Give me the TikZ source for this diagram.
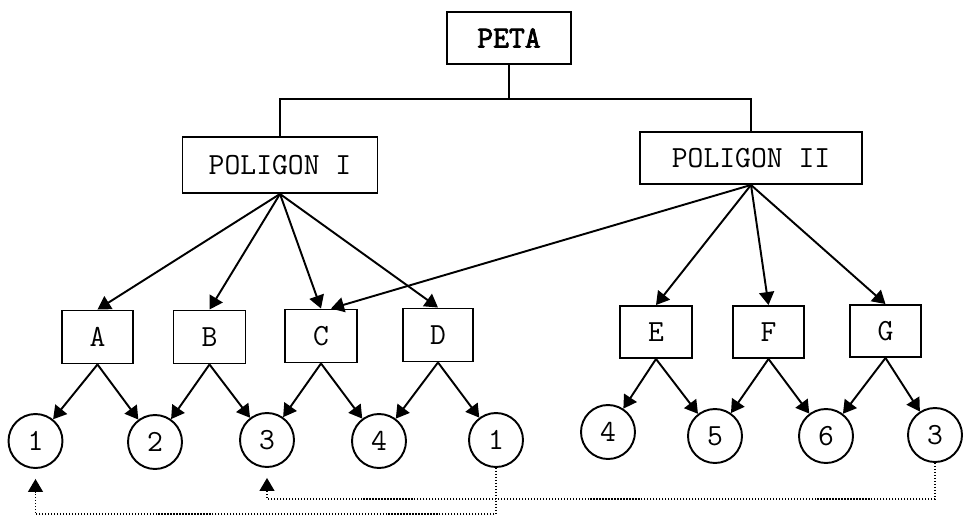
\documentclass[tikz,border=0pt]{standalone}
\usepackage{fontspec}
\usepackage{tikz}
\usetikzlibrary{arrows.meta}
\newfontfamily\boldtt{Latin Modern Mono}[FakeBold=2.5]
\tikzset{
  box node/.style={rectangle,draw,line width=1.1pt,inner sep=0pt,font=\ttfamily\fontsize{17.5}{20}\selectfont},
  circ node/.style={circle,draw,line width=1.1pt,inner sep=0pt,minimum size=1.08cm,font=\ttfamily\fontsize{17.5}{20}\selectfont},
  link/.style={->,line width=1.1pt},
  back link/.style={->,densely dotted,line width=0.7pt,shorten >=0.2cm}
}

\begin{document}
\begin{tikzpicture}[x=0.02cm,y=-0.02cm,>={Triangle[length=0.26cm,width=0.3cm]}]
  \useasboundingbox (0,0) rectangle (963,524);
  % top levels
  \node [box node,minimum width=2.48cm,minimum height=1.04cm] (peta) at (509,38) {\boldtt PETA};
  \node [box node,minimum width=3.9cm,minimum height=1.12cm] (pol1) at (280,165) {POLIGON I};
  \node [box node,minimum width=4.44cm,minimum height=1.04cm] (pol2) at (751,158) {POLIGON II};
  \coordinate (bus) at (509,99);
  \draw [line width=1.1pt] (peta) -- (bus);
  \draw [line width=1.1pt] (bus) -| (pol1);
  \draw [line width=1.1pt] (bus) -| (pol2);
  % letters
  \node [box node,minimum width=1.42cm,minimum height=1.06cm] (A) at (97.5,337) {A};
  \node [box node,minimum width=1.44cm,minimum height=1.06cm] (B) at (209.5,337) {B};
  \node [box node,minimum width=1.44cm,minimum height=1.06cm] (C) at (321,336) {C};
  \node [box node,minimum width=1.4cm,minimum height=1.06cm] (D) at (438,335) {D};
  \node [box node,minimum width=1.44cm,minimum height=1.04cm] (E) at (656,332) {E};
  \node [box node,minimum width=1.42cm,minimum height=1.04cm] (F) at (768.5,332) {F};
  \node [box node,minimum width=1.42cm,minimum height=1.04cm] (G) at (885.5,331) {G};
  \draw [link] (pol1.south) -- (A.north);
  \draw [link] (pol1.south) -- (B.north);
  \draw [link] (pol1.south) -- (C.north);
  \draw [link] (pol1.south) -- (D.north);
  \draw [link] (pol2.south) -- ([xshift=0.2cm]C.north);
  \draw [link] (pol2.south) -- (E.north);
  \draw [link] (pol2.south) -- (F.north);
  \draw [link] (pol2.south) -- (G.north);
  % circles
  \node [circ node] (c1) at (35.5,441) {1};
  \node [circ node] (c2) at (155,442) {2};
  \node [circ node] (c3) at (267,440) {3};
  \node [circ node] (c4) at (379,441) {4};
  \node [circ node] (c5) at (496,440) {1};
  \node [circ node] (c6) at (608,432) {4};
  \node [circ node] (c7) at (715,436) {5};
  \node [circ node] (c8) at (826,436) {6};
  \node [circ node] (c9) at (935,435) {3};
  \draw [link] (A.south) -- (c1);
  \draw [link] (A.south) -- (c2);
  \draw [link] (B.south) -- (c2);
  \draw [link] (B.south) -- (c3);
  \draw [link] (C.south) -- (c3);
  \draw [link] (C.south) -- (c4);
  \draw [link] (D.south) -- (c4);
  \draw [link] (D.south) -- (c5);
  \draw [link] (E.south) -- (c6);
  \draw [link] (E.south) -- (c7);
  \draw [link] (F.south) -- (c7);
  \draw [link] (F.south) -- (c8);
  \draw [link] (G.south) -- (c8);
  \draw [link] (G.south) -- (c9);
  % dotted returns
  \coordinate (low1) at (496,514);
  \coordinate (low2) at (935,499);
  \draw [back link] (c5.south) -- (low1) -| (c1.south);
  \draw [back link] (c9.south) -- (low2) -| (c3.south);
\end{tikzpicture}
\end{document}
